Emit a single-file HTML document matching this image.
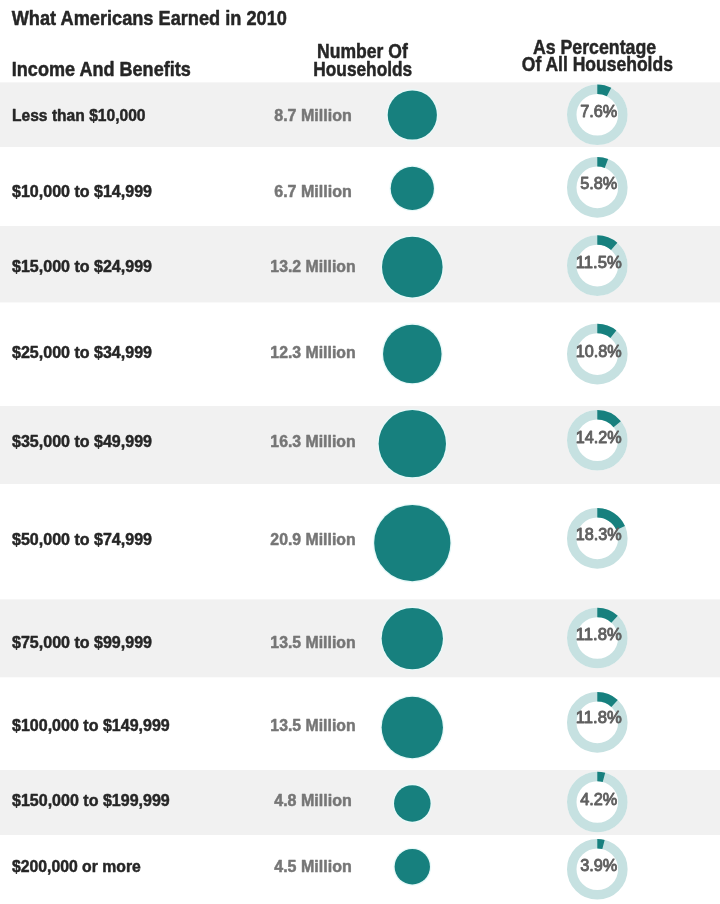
<!DOCTYPE html>
<html lang="en"><head><meta charset="utf-8"><title>What Americans Earned in 2010</title>
<style>html,body{margin:0;padding:0;background:#fff}svg{display:block}</style></head>
<body>
<svg width="720" height="904" viewBox="0 0 720 904" font-family='"Liberation Sans", sans-serif'>
<rect width="720" height="904" fill="#fff"/>
<rect x="0" y="82.4" width="720" height="64.6" fill="#f1f1f1"/>
<rect x="0" y="226" width="720" height="76.39999999999998" fill="#f1f1f1"/>
<rect x="0" y="406" width="720" height="78" fill="#f1f1f1"/>
<rect x="0" y="599.4" width="720" height="77.89999999999998" fill="#f1f1f1"/>
<rect x="0" y="770" width="720" height="65" fill="#f1f1f1"/>
<text x="11.7" y="24.7" font-size="20.6" font-weight="bold" fill="#262626" stroke="#262626" stroke-width="0.5" stroke-linejoin="round" text-anchor="start" textLength="275.2" lengthAdjust="spacingAndGlyphs">What Americans Earned in 2010</text>
<text x="11.8" y="76.1" font-size="20.6" font-weight="bold" fill="#262626" stroke="#262626" stroke-width="0.5" stroke-linejoin="round" text-anchor="start" textLength="179" lengthAdjust="spacingAndGlyphs">Income And Benefits</text>
<text x="317.1" y="58.4" font-size="21" font-weight="bold" fill="#262626" stroke="#262626" stroke-width="0.5" stroke-linejoin="round" text-anchor="start" textLength="90.7" lengthAdjust="spacingAndGlyphs">Number Of</text>
<text x="313.3" y="75.6" font-size="21" font-weight="bold" fill="#262626" stroke="#262626" stroke-width="0.5" stroke-linejoin="round" text-anchor="start" textLength="98.9" lengthAdjust="spacingAndGlyphs">Households</text>
<text x="532.9" y="53.6" font-size="21" font-weight="bold" fill="#262626" stroke="#262626" stroke-width="0.5" stroke-linejoin="round" text-anchor="start" textLength="123.3" lengthAdjust="spacingAndGlyphs">As Percentage</text>
<text x="521.8" y="71.2" font-size="21" font-weight="bold" fill="#262626" stroke="#262626" stroke-width="0.5" stroke-linejoin="round" text-anchor="start" textLength="151.1" lengthAdjust="spacingAndGlyphs">Of All Households</text>
<text x="12" y="121.25" font-size="17.2" font-weight="bold" fill="#262626" stroke="#262626" stroke-width="0.5" stroke-linejoin="round" text-anchor="start" textLength="133.5" lengthAdjust="spacingAndGlyphs">Less than $10,000</text>
<text x="274.25" y="121.25" font-size="16.8" font-weight="bold" fill="#767676" stroke="#767676" stroke-width="0.5" stroke-linejoin="round" text-anchor="start" textLength="77.5" lengthAdjust="spacingAndGlyphs">8.7 Million</text>
<circle cx="412.3" cy="115" r="25.90" fill="#e8f9f9"/>
<circle cx="412.3" cy="115" r="24.60" fill="#17807e"/>
<circle cx="597.3" cy="114.7" r="30.3" fill="#fff"/>
<circle cx="597.3" cy="114.7" r="25.55" fill="none" stroke="#c6e1e1" stroke-width="9.5"/>
<path d="M597.3 89.15 A25.55 25.55 0 0 1 609.04 92.01" fill="none" stroke="#17807e" stroke-width="9.5"/>
<text x="580.1999999999999" y="116.8" font-size="16.6" font-weight="normal" fill="#606060" stroke="#606060" stroke-width="0.9" stroke-linejoin="round" text-anchor="start" textLength="37.199999999999996" lengthAdjust="spacingAndGlyphs">7.6%</text>
<text x="12" y="197" font-size="17.2" font-weight="bold" fill="#262626" stroke="#262626" stroke-width="0.5" stroke-linejoin="round" text-anchor="start" textLength="140" lengthAdjust="spacingAndGlyphs">$10,000 to $14,999</text>
<text x="274.25" y="197" font-size="16.8" font-weight="bold" fill="#767676" stroke="#767676" stroke-width="0.5" stroke-linejoin="round" text-anchor="start" textLength="77.5" lengthAdjust="spacingAndGlyphs">6.7 Million</text>
<circle cx="412.3" cy="188.4" r="22.89" fill="#e8f9f9"/>
<circle cx="412.3" cy="188.4" r="21.59" fill="#17807e"/>
<circle cx="597.3" cy="187.4" r="30.3" fill="#fff"/>
<circle cx="597.3" cy="187.4" r="25.55" fill="none" stroke="#c6e1e1" stroke-width="9.5"/>
<path d="M597.3 161.85 A25.55 25.55 0 0 1 606.41 163.53" fill="none" stroke="#17807e" stroke-width="9.5"/>
<text x="580.1999999999999" y="189.1" font-size="16.6" font-weight="normal" fill="#606060" stroke="#606060" stroke-width="0.9" stroke-linejoin="round" text-anchor="start" textLength="37.199999999999996" lengthAdjust="spacingAndGlyphs">5.8%</text>
<text x="12" y="272" font-size="17.2" font-weight="bold" fill="#262626" stroke="#262626" stroke-width="0.5" stroke-linejoin="round" text-anchor="start" textLength="140" lengthAdjust="spacingAndGlyphs">$15,000 to $24,999</text>
<text x="270.35" y="272" font-size="16.8" font-weight="bold" fill="#767676" stroke="#767676" stroke-width="0.5" stroke-linejoin="round" text-anchor="start" textLength="85.3" lengthAdjust="spacingAndGlyphs">13.2 Million</text>
<circle cx="412.3" cy="267.1" r="31.60" fill="#e8f9f9"/>
<circle cx="412.3" cy="267.1" r="30.30" fill="#17807e"/>
<circle cx="597.3" cy="265.6" r="30.3" fill="#fff"/>
<circle cx="597.3" cy="265.6" r="25.55" fill="none" stroke="#c6e1e1" stroke-width="9.5"/>
<path d="M597.3 240.05 A25.55 25.55 0 0 1 614.20 246.43" fill="none" stroke="#17807e" stroke-width="9.5"/>
<text x="575.8" y="268.0" font-size="16.6" font-weight="normal" fill="#606060" stroke="#606060" stroke-width="0.9" stroke-linejoin="round" text-anchor="start" textLength="46.0" lengthAdjust="spacingAndGlyphs">11.5%</text>
<text x="12" y="357.5" font-size="17.2" font-weight="bold" fill="#262626" stroke="#262626" stroke-width="0.5" stroke-linejoin="round" text-anchor="start" textLength="140" lengthAdjust="spacingAndGlyphs">$25,000 to $34,999</text>
<text x="270.35" y="357.5" font-size="16.8" font-weight="bold" fill="#767676" stroke="#767676" stroke-width="0.5" stroke-linejoin="round" text-anchor="start" textLength="85.3" lengthAdjust="spacingAndGlyphs">12.3 Million</text>
<circle cx="412.3" cy="353.9" r="30.55" fill="#e8f9f9"/>
<circle cx="412.3" cy="353.9" r="29.25" fill="#17807e"/>
<circle cx="597.3" cy="354.1" r="30.3" fill="#fff"/>
<circle cx="597.3" cy="354.1" r="25.55" fill="none" stroke="#c6e1e1" stroke-width="9.5"/>
<path d="M597.3 328.55 A25.55 25.55 0 0 1 613.34 334.21" fill="none" stroke="#17807e" stroke-width="9.5"/>
<text x="575.8" y="356.6" font-size="16.6" font-weight="normal" fill="#606060" stroke="#606060" stroke-width="0.9" stroke-linejoin="round" text-anchor="start" textLength="46.0" lengthAdjust="spacingAndGlyphs">10.8%</text>
<text x="12" y="447.2" font-size="17.2" font-weight="bold" fill="#262626" stroke="#262626" stroke-width="0.5" stroke-linejoin="round" text-anchor="start" textLength="140" lengthAdjust="spacingAndGlyphs">$35,000 to $49,999</text>
<text x="270.35" y="447.2" font-size="16.8" font-weight="bold" fill="#767676" stroke="#767676" stroke-width="0.5" stroke-linejoin="round" text-anchor="start" textLength="85.3" lengthAdjust="spacingAndGlyphs">16.3 Million</text>
<circle cx="412.3" cy="443.7" r="34.97" fill="#e8f9f9"/>
<circle cx="412.3" cy="443.7" r="33.67" fill="#17807e"/>
<circle cx="597.3" cy="440.3" r="30.3" fill="#fff"/>
<circle cx="597.3" cy="440.3" r="25.55" fill="none" stroke="#c6e1e1" stroke-width="9.5"/>
<path d="M597.3 414.75 A25.55 25.55 0 0 1 617.19 424.26" fill="none" stroke="#17807e" stroke-width="9.5"/>
<text x="575.8" y="443.1" font-size="16.6" font-weight="normal" fill="#606060" stroke="#606060" stroke-width="0.9" stroke-linejoin="round" text-anchor="start" textLength="46.0" lengthAdjust="spacingAndGlyphs">14.2%</text>
<text x="12" y="544.5" font-size="17.2" font-weight="bold" fill="#262626" stroke="#262626" stroke-width="0.5" stroke-linejoin="round" text-anchor="start" textLength="140" lengthAdjust="spacingAndGlyphs">$50,000 to $74,999</text>
<text x="270.35" y="544.5" font-size="16.8" font-weight="bold" fill="#767676" stroke="#767676" stroke-width="0.5" stroke-linejoin="round" text-anchor="start" textLength="85.3" lengthAdjust="spacingAndGlyphs">20.9 Million</text>
<circle cx="412.3" cy="543.1" r="39.43" fill="#e8f9f9"/>
<circle cx="412.3" cy="543.1" r="38.13" fill="#17807e"/>
<circle cx="597.3" cy="538.4" r="30.3" fill="#fff"/>
<circle cx="597.3" cy="538.4" r="25.55" fill="none" stroke="#c6e1e1" stroke-width="9.5"/>
<path d="M597.3 512.85 A25.55 25.55 0 0 1 620.62 527.96" fill="none" stroke="#17807e" stroke-width="9.5"/>
<text x="575.8" y="540.0" font-size="16.6" font-weight="normal" fill="#606060" stroke="#606060" stroke-width="0.9" stroke-linejoin="round" text-anchor="start" textLength="46.0" lengthAdjust="spacingAndGlyphs">18.3%</text>
<text x="12" y="648" font-size="17.2" font-weight="bold" fill="#262626" stroke="#262626" stroke-width="0.5" stroke-linejoin="round" text-anchor="start" textLength="140" lengthAdjust="spacingAndGlyphs">$75,000 to $99,999</text>
<text x="270.35" y="648" font-size="16.8" font-weight="bold" fill="#767676" stroke="#767676" stroke-width="0.5" stroke-linejoin="round" text-anchor="start" textLength="85.3" lengthAdjust="spacingAndGlyphs">13.5 Million</text>
<circle cx="412.3" cy="638.6" r="31.94" fill="#e8f9f9"/>
<circle cx="412.3" cy="638.6" r="30.64" fill="#17807e"/>
<circle cx="597.3" cy="638" r="30.3" fill="#fff"/>
<circle cx="597.3" cy="638" r="25.55" fill="none" stroke="#c6e1e1" stroke-width="9.5"/>
<path d="M597.3 612.45 A25.55 25.55 0 0 1 614.55 619.16" fill="none" stroke="#17807e" stroke-width="9.5"/>
<text x="575.8" y="640.4" font-size="16.6" font-weight="normal" fill="#606060" stroke="#606060" stroke-width="0.9" stroke-linejoin="round" text-anchor="start" textLength="46.0" lengthAdjust="spacingAndGlyphs">11.8%</text>
<text x="12" y="731" font-size="17.2" font-weight="bold" fill="#262626" stroke="#262626" stroke-width="0.5" stroke-linejoin="round" text-anchor="start" textLength="157.8" lengthAdjust="spacingAndGlyphs">$100,000 to $149,999</text>
<text x="270.35" y="731" font-size="16.8" font-weight="bold" fill="#767676" stroke="#767676" stroke-width="0.5" stroke-linejoin="round" text-anchor="start" textLength="85.3" lengthAdjust="spacingAndGlyphs">13.5 Million</text>
<circle cx="412.3" cy="727.5" r="31.94" fill="#e8f9f9"/>
<circle cx="412.3" cy="727.5" r="30.64" fill="#17807e"/>
<circle cx="597.3" cy="722.4" r="30.3" fill="#fff"/>
<circle cx="597.3" cy="722.4" r="25.55" fill="none" stroke="#c6e1e1" stroke-width="9.5"/>
<path d="M597.3 696.85 A25.55 25.55 0 0 1 614.55 703.56" fill="none" stroke="#17807e" stroke-width="9.5"/>
<text x="575.8" y="723.4" font-size="16.6" font-weight="normal" fill="#606060" stroke="#606060" stroke-width="0.9" stroke-linejoin="round" text-anchor="start" textLength="46.0" lengthAdjust="spacingAndGlyphs">11.8%</text>
<text x="12" y="805.5" font-size="17.2" font-weight="bold" fill="#262626" stroke="#262626" stroke-width="0.5" stroke-linejoin="round" text-anchor="start" textLength="157.8" lengthAdjust="spacingAndGlyphs">$150,000 to $199,999</text>
<text x="274.25" y="805.5" font-size="16.8" font-weight="bold" fill="#767676" stroke="#767676" stroke-width="0.5" stroke-linejoin="round" text-anchor="start" textLength="77.5" lengthAdjust="spacingAndGlyphs">4.8 Million</text>
<circle cx="412.3" cy="803.4" r="19.57" fill="#e8f9f9"/>
<circle cx="412.3" cy="803.4" r="18.27" fill="#17807e"/>
<circle cx="597.3" cy="802" r="30.3" fill="#fff"/>
<circle cx="597.3" cy="802" r="25.55" fill="none" stroke="#c6e1e1" stroke-width="9.5"/>
<path d="M597.3 776.45 A25.55 25.55 0 0 1 603.96 777.33" fill="none" stroke="#17807e" stroke-width="9.5"/>
<text x="580.1999999999999" y="804.9" font-size="16.6" font-weight="normal" fill="#606060" stroke="#606060" stroke-width="0.9" stroke-linejoin="round" text-anchor="start" textLength="37.199999999999996" lengthAdjust="spacingAndGlyphs">4.2%</text>
<text x="12" y="871.8" font-size="17.2" font-weight="bold" fill="#262626" stroke="#262626" stroke-width="0.5" stroke-linejoin="round" text-anchor="start" textLength="128.8" lengthAdjust="spacingAndGlyphs">$200,000 or more</text>
<text x="274.25" y="871.8" font-size="16.8" font-weight="bold" fill="#767676" stroke="#767676" stroke-width="0.5" stroke-linejoin="round" text-anchor="start" textLength="77.5" lengthAdjust="spacingAndGlyphs">4.5 Million</text>
<circle cx="412.3" cy="866.7" r="18.99" fill="#e8f9f9"/>
<circle cx="412.3" cy="866.7" r="17.69" fill="#17807e"/>
<circle cx="597.3" cy="869.3" r="30.3" fill="#fff"/>
<circle cx="597.3" cy="869.3" r="25.55" fill="none" stroke="#c6e1e1" stroke-width="9.5"/>
<path d="M597.3 843.75 A25.55 25.55 0 0 1 603.50 844.51" fill="none" stroke="#17807e" stroke-width="9.5"/>
<text x="580.1999999999999" y="871.1" font-size="16.6" font-weight="normal" fill="#606060" stroke="#606060" stroke-width="0.9" stroke-linejoin="round" text-anchor="start" textLength="37.199999999999996" lengthAdjust="spacingAndGlyphs">3.9%</text>
</svg>
</body></html>
